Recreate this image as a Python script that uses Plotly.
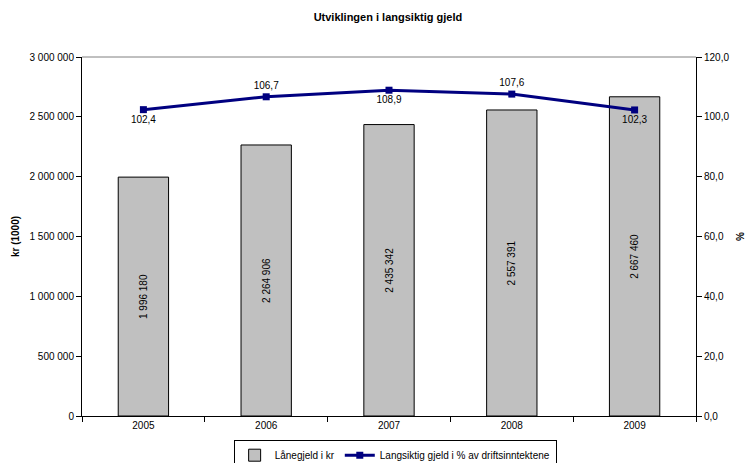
import plotly.graph_objects as go

years = ["2005", "2006", "2007", "2008", "2009"]
laanegjeld = [1996180, 2264906, 2435342, 2557391, 2667460]
prosent = [102.4, 106.7, 108.9, 107.6, 102.3]
label_pos = ["bottom center", "top center", "bottom center", "top center", "bottom center"]

FONT = "Liberation Sans, Arial, sans-serif"

fig = go.Figure()
fig.add_trace(go.Bar(
    x=years, y=laanegjeld, name="Lånegjeld i kr",
    marker=dict(color="#C0C0C0", line=dict(color="black", width=1)),
    width=0.41,
    texttemplate="%{y:,d}", textposition="inside", textangle=-90,
    insidetextanchor="middle",
    textfont=dict(family=FONT, size=10, color="black"),
    yaxis="y",
))
fig.add_trace(go.Scatter(
    x=years, y=prosent, name="Langsiktig gjeld i % av driftsinntektene",
    mode="lines+markers+text",
    line=dict(color="#000080", width=3),
    marker=dict(symbol="square", size=7, color="#000080"),
    texttemplate="%{y:.1f}", textposition=label_pos,
    textfont=dict(family=FONT, size=10, color="black"),
    yaxis="y2",
))

fig.update_layout(
    width=746, height=463,
    margin=dict(l=82, r=50, t=57, b=47, autoexpand=False),
    paper_bgcolor="white", plot_bgcolor="white",
    separators=", ",
    font=dict(family=FONT, size=10, color="black"),
    title=dict(text="<b>Utviklingen i langsiktig gjeld</b>", x=0.52, xanchor="center",
               y=0.962, yanchor="middle", font=dict(size=11, family=FONT)),
    showlegend=True,
    legend=dict(orientation="h", x=0.51, xanchor="center", y=-0.066, yanchor="top",
                bordercolor="black", borderwidth=1, font=dict(size=10),
                itemwidth=30, tracegroupgap=0),
    xaxis=dict(type="category", showline=True, linecolor="black", linewidth=1,
               ticks="outside", tickson="boundaries", ticklen=5, tickcolor="black",
               showgrid=False, tickfont=dict(size=10)),
    yaxis=dict(range=[0, 3000000], dtick=500000, tickformat=",d",
               showline=True, linecolor="black", linewidth=1,
               ticks="outside", ticklen=5, tickcolor="black", showgrid=False,
               zeroline=False,
               title=dict(text="<b>kr (1000)</b>", font=dict(size=10), standoff=8),
               tickfont=dict(size=10)),
    yaxis2=dict(range=[0, 120], dtick=20, tickformat=".1f", overlaying="y", side="right",
                showline=True, linecolor="black", linewidth=1,
                ticks="outside", ticklen=5, tickcolor="black", showgrid=False,
                zeroline=False,
                title=dict(text="<b>%</b>", font=dict(size=10), standoff=10),
                tickfont=dict(size=10)),
)
fig.add_shape(type="line", xref="paper", yref="paper", x0=0, x1=1, y0=1, y1=1,
              line=dict(color="#808080", width=1), layer="below")

fig.write_html("out.html")
